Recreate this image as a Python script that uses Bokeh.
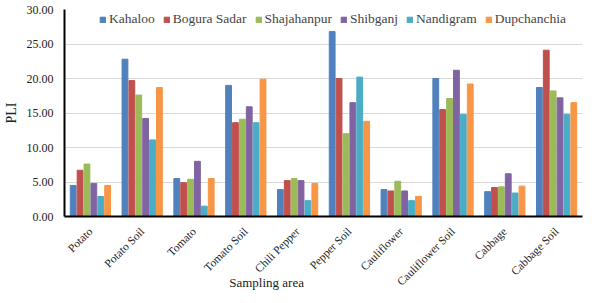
import math
from bokeh.plotting import figure
from bokeh.models import ColumnDataSource, FactorRange, Range1d, NumeralTickFormatter, FixedTicker
from bokeh.transform import dodge
from bokeh.embed import file_html
from bokeh.resources import INLINE

categories = ["Potato", "Potato Soil", "Tomato", "Tomato Soil", "Chili Pepper",
              "Pepper Soil", "Cauliflower", "Cauliflower Soil", "Cabbage", "Cabbage Soil"]
kahaloo = [4.5, 22.8, 5.5, 19.0, 3.9, 26.8, 3.9, 20.0, 3.6, 18.7]
bogura_sadar = [6.7, 19.7, 4.9, 13.6, 5.2, 20.0, 3.7, 15.5, 4.2, 24.1]
shajahanpur = [7.6, 17.6, 5.4, 14.1, 5.5, 12.0, 5.1, 17.1, 4.3, 18.2]
shibganj = [4.8, 14.2, 8.0, 15.9, 5.2, 16.5, 3.7, 21.2, 6.2, 17.2]
nandigram = [2.9, 11.1, 1.5, 13.6, 2.3, 20.2, 2.3, 14.8, 3.4, 14.8]
dupchanchia = [4.5, 18.7, 5.5, 19.9, 4.8, 13.8, 2.9, 19.2, 4.4, 16.5]

series_names = ["Kahaloo", "Bogura Sadar", "Shajahanpur", "Shibganj", "Nandigram", "Dupchanchia"]
series_vals = [kahaloo, bogura_sadar, shajahanpur, shibganj, nandigram, dupchanchia]
colors = ["#4F81BD", "#C0504D", "#9BBB59", "#8064A2", "#4BACC6", "#F79646"]
x_title = "Sampling area"
y_title = "PLI"

data = {"cat": categories}
for n, v in zip(series_names, series_vals):
    data[n] = v
source = ColumnDataSource(data)

p = figure(x_range=FactorRange(*categories), y_range=Range1d(0, 30),
           width=588, height=300, output_backend="svg", toolbar_location=None,
           min_border_left=55, min_border_right=6, min_border_top=9, min_border_bottom=84)

slot = 0.133
for i, (n, c) in enumerate(zip(series_names, colors)):
    p.vbar(x=dodge("cat", (i - 2.5) * slot, range=p.x_range), top=n, width=0.112,
           source=source, color=c, legend_label=n)

serif = "Liberation Serif"
p.outline_line_color = None
p.xgrid.grid_line_color = None
p.ygrid.grid_line_color = "#d9d9d9"
p.ygrid.grid_line_width = 1
p.yaxis.ticker = FixedTicker(ticks=[0, 5, 10, 15, 20, 25, 30])
p.yaxis.formatter = NumeralTickFormatter(format="0.00")
for ax in (p.xaxis, p.yaxis):
    ax.axis_line_color = "black"
    ax.axis_line_width = 2
    ax.major_tick_line_color = None
    ax.minor_tick_line_color = None
    ax.major_label_text_font = serif
    ax.major_label_text_font_size = "12px"
    ax.major_label_text_color = "#222222"
    ax.axis_label_text_font = serif
    ax.axis_label_text_font_style = "normal"
    ax.axis_label_text_font_size = "14px"
    ax.axis_label_text_color = "#222222"
p.xaxis.major_label_orientation = math.pi / 4
p.xaxis.major_label_text_font_size = "11.5px"
p.xaxis.major_label_standoff = 7
# trailing non-breaking spaces shift the centred title left, as in the reference
p.xaxis.axis_label = x_title + "\u00a0" * 35
p.xaxis.axis_label_text_font_size = "13px"
p.xaxis.axis_label_standoff = -20
p.yaxis.axis_label = y_title
p.x_range.range_padding = 0
p.x_range.group_padding = 0

p.legend.location = (35, 189)
p.legend.orientation = "horizontal"
p.legend.background_fill_alpha = 0.9
p.legend.border_line_color = None
p.legend.label_text_font = serif
p.legend.label_text_font_size = "13.5px"
p.legend.glyph_width = 7
p.legend.glyph_height = 7
p.legend.spacing = 8
p.legend.label_standoff = 3
p.legend.padding = 1
p.legend.margin = 1

open("out.html", "w").write(file_html(p, INLINE))
